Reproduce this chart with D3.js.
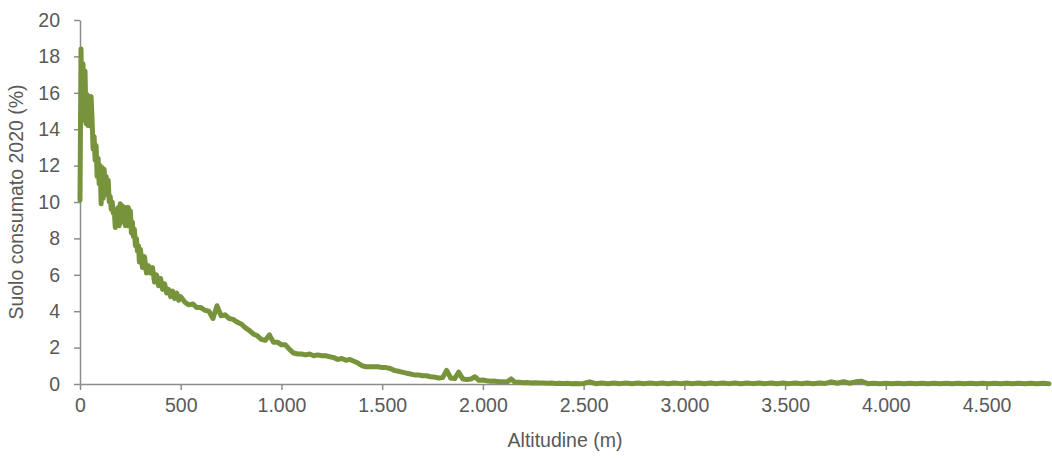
<!DOCTYPE html>
<html>
<head>
<meta charset="utf-8">
<script src="https://cdn.jsdelivr.net/npm/d3@7"></script>
<style>
  html, body { margin: 0; padding: 0; background: #ffffff; }
  svg { display: block; }
  text { font-family: "Liberation Sans", Arial, sans-serif; }
</style>
</head>
<body>
<svg id="chart" width="1052" height="461"></svg>
<script>
// ---- Data ----
// Segment starts / steps for altitude (m)
const segmentStarts = [0, 310, 520, 2530];
const segmentSteps = [5, 10, 20, 30];

// 0 - 300 m, every 5 m
const valuesLowest = [10.1, 18.4, 15.0, 17.6, 14.5, 17.2, 14.3, 15.9, 14.2, 15.8,
  14.3, 15.8, 14.5, 12.9, 13.6, 12.3, 13.1, 11.4, 12.4, 11.0,
  12.0, 9.9, 11.9, 10.2, 11.8, 10.4, 11.4, 10.6, 11.2, 10.0,
  10.3, 9.6, 10.0, 9.4, 9.6, 8.6, 9.4, 8.7, 9.7, 8.7,
  9.9, 8.9, 9.8, 8.9, 9.4, 8.7, 9.7, 8.7, 9.7, 8.8,
  9.5, 8.3, 8.9, 8.1, 8.5, 7.6, 8.0, 7.3, 7.6, 6.7,
  7.4];

// 310 - 500 m, every 10 m
const valuesLow = [6.4, 7.0, 6.1, 6.5, 6.1, 6.4, 5.6, 6.0, 5.4, 5.8,
  5.2, 5.5, 5.0, 5.2, 4.8, 5.1, 4.7, 5.0, 4.6, 4.8];

// 520 - 2500 m, every 20 m
const valuesMid = [4.5, 4.35, 4.4, 4.2, 4.2, 4.05, 4.0, 3.6, 4.3, 3.75,
  3.8, 3.6, 3.55, 3.4, 3.3, 3.1, 2.95, 2.75, 2.65, 2.45,
  2.4, 2.7, 2.3, 2.3, 2.15, 2.15, 1.9, 1.7, 1.65, 1.65,
  1.6, 1.65, 1.55, 1.6, 1.55, 1.55, 1.5, 1.45, 1.35, 1.4,
  1.3, 1.35, 1.25, 1.15, 1.0, 0.95, 0.95, 0.95, 0.95, 0.9,
  0.9, 0.85, 0.75, 0.7, 0.65, 0.6, 0.55, 0.5, 0.5, 0.45,
  0.45, 0.4, 0.38, 0.33, 0.35, 0.75, 0.33, 0.3, 0.65, 0.28,
  0.25, 0.27, 0.4, 0.2, 0.22, 0.18, 0.15, 0.16, 0.12, 0.13,
  0.11, 0.28, 0.09, 0.1, 0.07, 0.08, 0.06, 0.07, 0.05, 0.06,
  0.04, 0.05, 0.03, 0.04, 0.03, 0.04, 0.02, 0.03, 0.02, 0.03];

// 2530 - 4810 m, every 30 m
const valuesHigh = [0.12, 0.02, 0.05, 0.01, 0.05, 0.02, 0.06, 0.01, 0.05, 0.02,
  0.06, 0.02, 0.05, 0.01, 0.06, 0.02, 0.05, 0.02, 0.06, 0.01,
  0.05, 0.02, 0.06, 0.02, 0.05, 0.01, 0.06, 0.02, 0.05, 0.02,
  0.06, 0.01, 0.05, 0.02, 0.06, 0.02, 0.05, 0.01, 0.06, 0.03,
  0.12, 0.04, 0.13, 0.04, 0.12, 0.15, 0.02, 0.04, 0.01, 0.04,
  0.01, 0.04, 0.01, 0.04, 0.01, 0.04, 0.01, 0.04, 0.01, 0.04,
  0.01, 0.04, 0.01, 0.04, 0.01, 0.04, 0.01, 0.04, 0.01, 0.04,
  0.01, 0.04, 0.01, 0.04, 0.01, 0.04, 0.02];

const xTicks = [0, 500, 1000, 1500, 2000, 2500, 3000, 3500, 4000, 4500];
const yTicks = [0, 2, 4, 6, 8, 10, 12, 14, 16, 18, 20];
const xTitle = "Altitudine (m)";
const yTitle = "Suolo consumato 2020 (%)";

// ---- Build point list ----
const points = [];
[valuesLowest, valuesLow, valuesMid, valuesHigh].forEach((vals, s) => {
  vals.forEach((v, i) => points.push({ alt: segmentStarts[s] + i * segmentSteps[s], v }));
});

// ---- Layout ----
const svg = d3.select("#chart");
const mLeft = 80, mRight = 1050, mTop = 20, mBottom = 384;
const textColor = "#595959", axisColor = "#8c8c8c", lineColor = "#77933C";

const x = d3.scaleLinear().domain([0, 4815]).range([mLeft, mRight]);
const y = d3.scaleLinear().domain([0, 20]).range([mBottom, mTop]);

const itFmt = d3.formatLocale({ decimal: ",", thousands: ".", grouping: [3], currency: ["€", ""] }).format(",d");

// Y axis
const gy = svg.append("g").attr("transform", `translate(${mLeft},0)`)
  .call(d3.axisLeft(y).tickValues(yTicks).tickSize(6).tickSizeOuter(0).tickPadding(14));
// X axis
const gx = svg.append("g").attr("transform", `translate(0,${mBottom})`)
  .call(d3.axisBottom(x).tickValues(xTicks).tickFormat(itFmt).tickSize(6).tickSizeOuter(0).tickPadding(8));

[gx, gy].forEach(g => {
  g.select(".domain").attr("stroke", axisColor).attr("stroke-width", 1.5);
  g.selectAll(".tick line").attr("stroke", axisColor).attr("stroke-width", 1.5);
  g.selectAll(".tick text").attr("fill", textColor).style("font-size", "19.5px")
    .style("font-family", '"Liberation Sans", Arial, sans-serif');
});

// Line
const line = d3.line().x(d => x(d.alt)).y(d => y(d.v));
svg.append("path")
  .datum(points)
  .attr("d", line)
  .attr("fill", "none")
  .attr("stroke", lineColor)
  .attr("stroke-width", 5)
  .attr("stroke-linejoin", "round")
  .attr("stroke-linecap", "round");

// Titles
svg.append("text")
  .attr("x", (mLeft + mRight) / 2).attr("y", 447)
  .attr("text-anchor", "middle").attr("fill", textColor)
  .style("font-size", "19.5px")
  .text(xTitle);

svg.append("text")
  .attr("transform", `translate(23,${(mTop + mBottom) / 2}) rotate(-90)`)
  .attr("text-anchor", "middle").attr("fill", textColor)
  .style("font-size", "19.5px")
  .text(yTitle);
</script>
</body>
</html>
